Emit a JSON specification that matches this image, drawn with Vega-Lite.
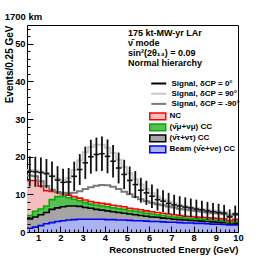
{
  "$schema": "https://vega.github.io/schema/vega-lite/v6.json",
  "width": 211,
  "height": 207,
  "autosize": {"type": "none"},
  "padding": {"left": 27, "top": 25, "right": 28, "bottom": 26},
  "background": "white",
  "config": {"view": {"stroke": "black", "strokeWidth": 1}, "font": "Liberation Sans"},
  "title": {"text": "1700 km", "anchor": "start", "fontSize": 9.5, "font": "Liberation Sans", "fontWeight": "bold", "color": "black", "offset": 4},
  "resolve": {"axis": {"x": "independent", "y": "independent"}},
  "datasets": {
    "bins": [
      {"lo":0.5,"hi":0.75,"c":0.625,"b1":1.0,"b2":2.5,"b3":0.9,"b4":9.3,"d0":16.1,"e0lo":12.1,"e0hi":20.1,"d90":16.5,"dm90":15.0},
      {"lo":0.75,"hi":1.0,"c":0.875,"b1":1.3,"b2":2.7,"b3":1.5,"b4":8.2,"d0":16.0,"e0lo":12.0,"e0hi":20.0,"d90":16.4,"dm90":14.8},
      {"lo":1.0,"hi":1.25,"c":1.125,"b1":1.7,"b2":2.9,"b3":1.5,"b4":6.1,"d0":15.8,"e0lo":11.8,"e0hi":19.8,"d90":16.1,"dm90":13.5},
      {"lo":1.25,"hi":1.5,"c":1.375,"b1":2.2,"b2":3.0,"b3":1.7,"b4":4.1,"d0":15.5,"e0lo":11.6,"e0hi":19.4,"d90":15.7,"dm90":12.2},
      {"lo":1.5,"hi":1.75,"c":1.625,"b1":2.5,"b2":3.5,"b3":2.6,"b4":2.2,"d0":14.8,"e0lo":10.9,"e0hi":18.7,"d90":15.0,"dm90":11.2},
      {"lo":1.75,"hi":2.0,"c":1.875,"b1":2.8,"b2":3.6,"b3":3.0,"b4":1.1,"d0":13.8,"e0lo":10.1,"e0hi":17.5,"d90":14.2,"dm90":10.6},
      {"lo":2.0,"hi":2.25,"c":2.125,"b1":3.0,"b2":3.7,"b3":2.8,"b4":0.7,"d0":13.2,"e0lo":9.6,"e0hi":16.8,"d90":13.8,"dm90":10.4},
      {"lo":2.25,"hi":2.5,"c":2.375,"b1":3.2,"b2":3.7,"b3":2.2,"b4":0.7,"d0":13.3,"e0lo":9.7,"e0hi":17.0,"d90":14.3,"dm90":10.3},
      {"lo":2.5,"hi":2.75,"c":2.625,"b1":3.3,"b2":3.6,"b3":1.8,"b4":0.7,"d0":14.8,"e0lo":10.9,"e0hi":18.7,"d90":16.5,"dm90":10.4},
      {"lo":2.75,"hi":3.0,"c":2.875,"b1":3.4,"b2":3.4,"b3":1.5,"b4":0.7,"d0":16.6,"e0lo":12.5,"e0hi":20.7,"d90":19.0,"dm90":10.8},
      {"lo":3.0,"hi":3.25,"c":3.125,"b1":3.4,"b2":3.1,"b3":1.3,"b4":0.7,"d0":18.4,"e0lo":14.1,"e0hi":22.7,"d90":21.2,"dm90":11.4},
      {"lo":3.25,"hi":3.5,"c":3.375,"b1":3.4,"b2":2.9,"b3":1.1,"b4":0.7,"d0":20.0,"e0lo":15.5,"e0hi":24.5,"d90":22.6,"dm90":11.9},
      {"lo":3.5,"hi":3.75,"c":3.625,"b1":3.4,"b2":2.6,"b3":1.1,"b4":0.7,"d0":20.6,"e0lo":16.1,"e0hi":25.1,"d90":23.2,"dm90":12.3},
      {"lo":3.75,"hi":4.0,"c":3.875,"b1":3.4,"b2":2.4,"b3":1.1,"b4":0.7,"d0":20.8,"e0lo":16.2,"e0hi":25.4,"d90":23.2,"dm90":12.5},
      {"lo":4.0,"hi":4.25,"c":4.125,"b1":3.3,"b2":2.3,"b3":1.1,"b4":0.7,"d0":20.1,"e0lo":15.6,"e0hi":24.6,"d90":22.4,"dm90":12.4},
      {"lo":4.25,"hi":4.5,"c":4.375,"b1":3.3,"b2":2.1,"b3":1.0,"b4":0.7,"d0":18.8,"e0lo":14.5,"e0hi":23.1,"d90":21.0,"dm90":12.0},
      {"lo":4.5,"hi":4.75,"c":4.625,"b1":3.2,"b2":2.0,"b3":1.0,"b4":0.7,"d0":17.0,"e0lo":12.9,"e0hi":21.1,"d90":19.2,"dm90":11.4},
      {"lo":4.75,"hi":5.0,"c":4.875,"b1":3.2,"b2":1.8,"b3":1.0,"b4":0.7,"d0":15.3,"e0lo":11.4,"e0hi":19.2,"d90":17.3,"dm90":10.7},
      {"lo":5.0,"hi":5.25,"c":5.125,"b1":3.1,"b2":1.7,"b3":0.9,"b4":0.6,"d0":13.7,"e0lo":10.0,"e0hi":17.4,"d90":15.6,"dm90":10.0},
      {"lo":5.25,"hi":5.5,"c":5.375,"b1":3.0,"b2":1.6,"b3":0.9,"b4":0.6,"d0":12.6,"e0lo":9.0,"e0hi":16.2,"d90":14.0,"dm90":9.3},
      {"lo":5.5,"hi":5.75,"c":5.625,"b1":3.0,"b2":1.4,"b3":0.9,"b4":0.6,"d0":11.1,"e0lo":7.8,"e0hi":14.4,"d90":12.6,"dm90":8.7},
      {"lo":5.75,"hi":6.0,"c":5.875,"b1":2.9,"b2":1.3,"b3":0.8,"b4":0.6,"d0":10.4,"e0lo":7.2,"e0hi":13.6,"d90":11.4,"dm90":8.2},
      {"lo":6.0,"hi":6.25,"c":6.125,"b1":2.8,"b2":1.2,"b3":0.8,"b4":0.6,"d0":9.5,"e0lo":6.4,"e0hi":12.6,"d90":10.3,"dm90":7.8},
      {"lo":6.25,"hi":6.5,"c":6.375,"b1":2.8,"b2":1.1,"b3":0.7,"b4":0.6,"d0":8.6,"e0lo":5.7,"e0hi":11.5,"d90":9.4,"dm90":7.4},
      {"lo":6.5,"hi":6.75,"c":6.625,"b1":2.7,"b2":1.0,"b3":0.7,"b4":0.6,"d0":8.2,"e0lo":5.3,"e0hi":11.1,"d90":8.7,"dm90":7.1},
      {"lo":6.75,"hi":7.0,"c":6.875,"b1":2.6,"b2":1.0,"b3":0.6,"b4":0.6,"d0":7.6,"e0lo":4.8,"e0hi":10.4,"d90":8.1,"dm90":6.8},
      {"lo":7.0,"hi":7.25,"c":7.125,"b1":2.6,"b2":0.8,"b3":0.6,"b4":0.6,"d0":7.2,"e0lo":4.5,"e0hi":9.9,"d90":7.6,"dm90":6.5},
      {"lo":7.25,"hi":7.5,"c":7.375,"b1":2.5,"b2":0.8,"b3":0.6,"b4":0.5,"d0":6.9,"e0lo":4.3,"e0hi":9.5,"d90":7.2,"dm90":6.2},
      {"lo":7.5,"hi":7.75,"c":7.625,"b1":2.4,"b2":0.8,"b3":0.5,"b4":0.5,"d0":6.6,"e0lo":4.0,"e0hi":9.2,"d90":6.9,"dm90":6.0},
      {"lo":7.75,"hi":8.0,"c":7.875,"b1":2.4,"b2":0.7,"b3":0.5,"b4":0.5,"d0":6.4,"e0lo":3.9,"e0hi":8.9,"d90":6.6,"dm90":5.8},
      {"lo":8.0,"hi":8.25,"c":8.125,"b1":2.3,"b2":0.7,"b3":0.5,"b4":0.5,"d0":6.1,"e0lo":3.6,"e0hi":8.6,"d90":6.3,"dm90":5.6},
      {"lo":8.25,"hi":8.5,"c":8.375,"b1":2.3,"b2":0.6,"b3":0.5,"b4":0.5,"d0":5.9,"e0lo":3.5,"e0hi":8.3,"d90":6.1,"dm90":5.4},
      {"lo":8.5,"hi":8.75,"c":8.625,"b1":2.2,"b2":0.6,"b3":0.5,"b4":0.5,"d0":5.6,"e0lo":3.2,"e0hi":8.0,"d90":5.9,"dm90":5.2},
      {"lo":8.75,"hi":9.0,"c":8.875,"b1":2.1,"b2":0.6,"b3":0.5,"b4":0.5,"d0":5.4,"e0lo":3.1,"e0hi":7.7,"d90":5.7,"dm90":5.0},
      {"lo":9.0,"hi":9.25,"c":9.125,"b1":2.1,"b2":0.5,"b3":0.5,"b4":0.5,"d0":5.2,"e0lo":2.9,"e0hi":7.5,"d90":5.5,"dm90":4.9},
      {"lo":9.25,"hi":9.5,"c":9.375,"b1":2.0,"b2":0.5,"b3":0.5,"b4":0.5,"d0":5.0,"e0lo":2.8,"e0hi":7.2,"d90":5.3,"dm90":4.7},
      {"lo":9.5,"hi":9.75,"c":9.625,"b1":1.9,"b2":0.4,"b3":0.2,"b4":0.5,"d0":4.0,"e0lo":2.0,"e0hi":6.0,"d90":4.6,"dm90":4.2},
      {"lo":9.75,"hi":10.0,"c":9.875,"b1":1.9,"b2":0.4,"b3":0.6,"b4":0.5,"d0":4.8,"e0lo":2.6,"e0hi":7.0,"d90":5.0,"dm90":4.5}
    ]
  },
  "data": {"name": "bins"},
  "layer": [
    {
      "transform": [
        {"fold": ["b1", "b2", "b3", "b4"], "as": ["comp", "v"]},
        {"stack": "v", "groupby": ["lo"], "sort": [{"field": "comp", "order": "ascending"}], "as": ["y0", "y1"]},
        {"fold": ["lo", "hi"], "as": ["edge", "x"]}
      ],
      "mark": {"type": "area", "strokeWidth": 0, "opacity": 1},
      "encoding": {
        "x": {"field": "x", "type": "quantitative", "scale": {"domain": [0.5, 10], "nice": false, "zero": false},
          "axis": {"orient": "bottom", "values": [1,2,3,4,5,6,7,8,9,10],
            "tickSize": -6, "labelPadding": 7.5, "labelFlush": false, "labelOverlap": false, "domain": false, "grid": false,
            "tickColor": "black", "labelColor": "black", "labelFont": "Liberation Sans", "labelFontSize": 9.3, "labelFontWeight": "bold",
            "title": "Reconstructed Energy (GeV)", "titleAnchor": "end", "titleFont": "Liberation Sans", "titleFontSize": 9.5, "titleFontWeight": "bold", "titleColor": "black", "titlePadding": 1.5, "zindex": 1}},
        "y": {"field": "y1", "type": "quantitative", "scale": {"domain": [0, 55], "nice": false},
          "axis": {"orient": "left", "values": [0,10,20,30,40,50],
            "tickSize": -6, "labelPadding": 8, "labelOverlap": false, "domain": false, "grid": false,
            "tickColor": "black", "labelColor": "black", "labelFont": "Liberation Sans", "labelFontSize": 9.3, "labelFontWeight": "bold",
            "title": "Events/0.25 GeV", "titleAnchor": "end", "titleFont": "Liberation Sans", "titleFontSize": 10, "titleFontWeight": "bold", "titleColor": "black", "titlePadding": 0, "zindex": 1}},
        "y2": {"field": "y0"},
        "fill": {"field": "comp", "type": "nominal",
          "scale": {"domain": ["b4", "b3", "b2", "b1"], "range": ["#f6bebe", "#55c055", "#a5a5a5", "#aab3f0"]},
          "legend": {"orient": "none", "legendX": 101, "legendY": 86.75, "title": null, "padding": 0,
            "symbolType": "M-2.13,-0.9H2.13V0.9H-2.13Z", "symbolSize": 56.25, "symbolStrokeWidth": 1.5, "symbolOffset": 25.25, "labelOffset": 7.25, "rowPadding": -2.2,
            "labelFont": "Liberation Sans", "labelFontSize": 8, "labelFontWeight": "bold", "labelColor": "black", "labelLimit": 0,
            "labelExpr": "datum.value == 'b4' ? 'NC' : datum.value == 'b3' ? '(ν̄μ+νμ) CC' : datum.value == 'b2' ? '(ν̄τ+ντ) CC' : 'Beam (ν̄e+νe) CC'"}},
        "order": [{"field": "x", "type": "quantitative"}, {"field": "edge", "type": "nominal"}]
      }
    },
    {
      "transform": [
        {"fold": ["b1", "b2", "b3", "b4"], "as": ["comp", "v"]},
        {"stack": "v", "groupby": ["lo"], "sort": [{"field": "comp", "order": "ascending"}], "as": ["y0", "y1"]},
        {"fold": ["lo", "hi"], "as": ["edge", "x"]}
      ],
      "mark": {"type": "line", "strokeWidth": 1.6},
      "encoding": {
        "x": {"field": "x", "type": "quantitative",
          "axis": {"orient": "bottom", "values": [0.6,0.8,1.2,1.4,1.6,1.8,2.2,2.4,2.6,2.8,3.2,3.4,3.6,3.8,4.2,4.4,4.6,4.8,5.2,5.4,5.6,5.8,6.2,6.4,6.6,6.8,7.2,7.4,7.6,7.8,8.2,8.4,8.6,8.8,9.2,9.4,9.6,9.8],
            "tickSize": -3, "labels": false, "domain": false, "grid": false, "title": null, "tickColor": "black", "zindex": 1}},
        "y": {"field": "y1", "type": "quantitative",
          "axis": {"orient": "left", "values": [2,4,6,8,12,14,16,18,22,24,26,28,32,34,36,38,42,44,46,48,52,54],
            "tickSize": -3, "labels": false, "domain": false, "grid": false, "title": null, "tickColor": "black", "zindex": 1}},
        "stroke": {"field": "comp", "type": "nominal",
          "scale": {"domain": ["b4", "b3", "b2", "b1"], "range": ["#ff0000", "#00b000", "#000000", "#0000ff"]},
          "legend": {"orient": "none", "legendX": 101, "legendY": 86.75, "title": null, "padding": 0,
            "symbolType": "M-2.13,-0.9H2.13V0.9H-2.13Z", "symbolSize": 56.25, "symbolStrokeWidth": 1.5, "symbolOffset": 25.25, "labelOffset": 7.25, "rowPadding": -2.2,
            "labelFont": "Liberation Sans", "labelFontSize": 8, "labelFontWeight": "bold", "labelColor": "black", "labelLimit": 0,
            "labelExpr": "datum.value == 'b4' ? 'NC' : datum.value == 'b3' ? '(ν̄μ+νμ) CC' : datum.value == 'b2' ? '(ν̄τ+ντ) CC' : 'Beam (ν̄e+νe) CC'"}},
        "order": [{"field": "x", "type": "quantitative"}, {"field": "edge", "type": "nominal"}]
      }
    },
    {
      "transform": [
        {"fold": ["d90", "dm90"], "as": ["sig", "v"]},
        {"fold": ["lo", "hi"], "as": ["edge", "x"]}
      ],
      "mark": {"type": "line", "strokeWidth": 2},
      "encoding": {
        "x": {"field": "x", "type": "quantitative", "axis": null},
        "y": {"field": "v", "type": "quantitative", "axis": null},
        "color": {"field": "sig", "type": "nominal",
          "scale": {"domain": ["d0", "d90", "dm90"], "range": ["#000000", "#c8c8c8", "#7a7a7a"]},
          "legend": {"orient": "none", "legendX": 101, "legendY": 3.5, "padding": 0,
            "title": ["175 kt-MW-yr LAr", "ν̄ mode", "sin²(2θ₁₃) = 0.09", "Normal hierarchy"],
            "titleFont": "Liberation Sans", "titleFontSize": 9, "titleFontWeight": "bold", "titleColor": "black", "titleLineHeight": 10, "titlePadding": 11, "titleLimit": 0,
            "symbolType": "M-2,0H2", "symbolSize": 56.25, "symbolStrokeWidth": 2, "symbolOffset": 25.75, "labelOffset": 7.75, "rowPadding": 1.2,
            "labelFont": "Liberation Sans", "labelFontSize": 8, "labelFontWeight": "bold", "labelColor": "black", "labelLimit": 0,
            "labelExpr": "datum.value == 'd0' ? 'Signal, δCP = 0°' : datum.value == 'd90' ? 'Signal, δCP = 90°' : 'Signal, δCP = -90°'"}},
        "order": [{"field": "x", "type": "quantitative"}, {"field": "edge", "type": "nominal"}]
      }
    },
    {
      "mark": {"type": "rule", "strokeWidth": 1.8, "color": "#111111"},
      "encoding": {
        "x": {"field": "c", "type": "quantitative", "axis": null},
        "y": {"field": "e0lo", "type": "quantitative", "axis": null},
        "y2": {"field": "e0hi"}
      }
    },
    {
      "mark": {"type": "rule", "strokeWidth": 1.6, "color": "#111111"},
      "encoding": {
        "x": {"field": "lo", "type": "quantitative", "axis": null},
        "x2": {"field": "hi"},
        "y": {"field": "d0", "type": "quantitative", "axis": null}
      }
    }
  ]
}
